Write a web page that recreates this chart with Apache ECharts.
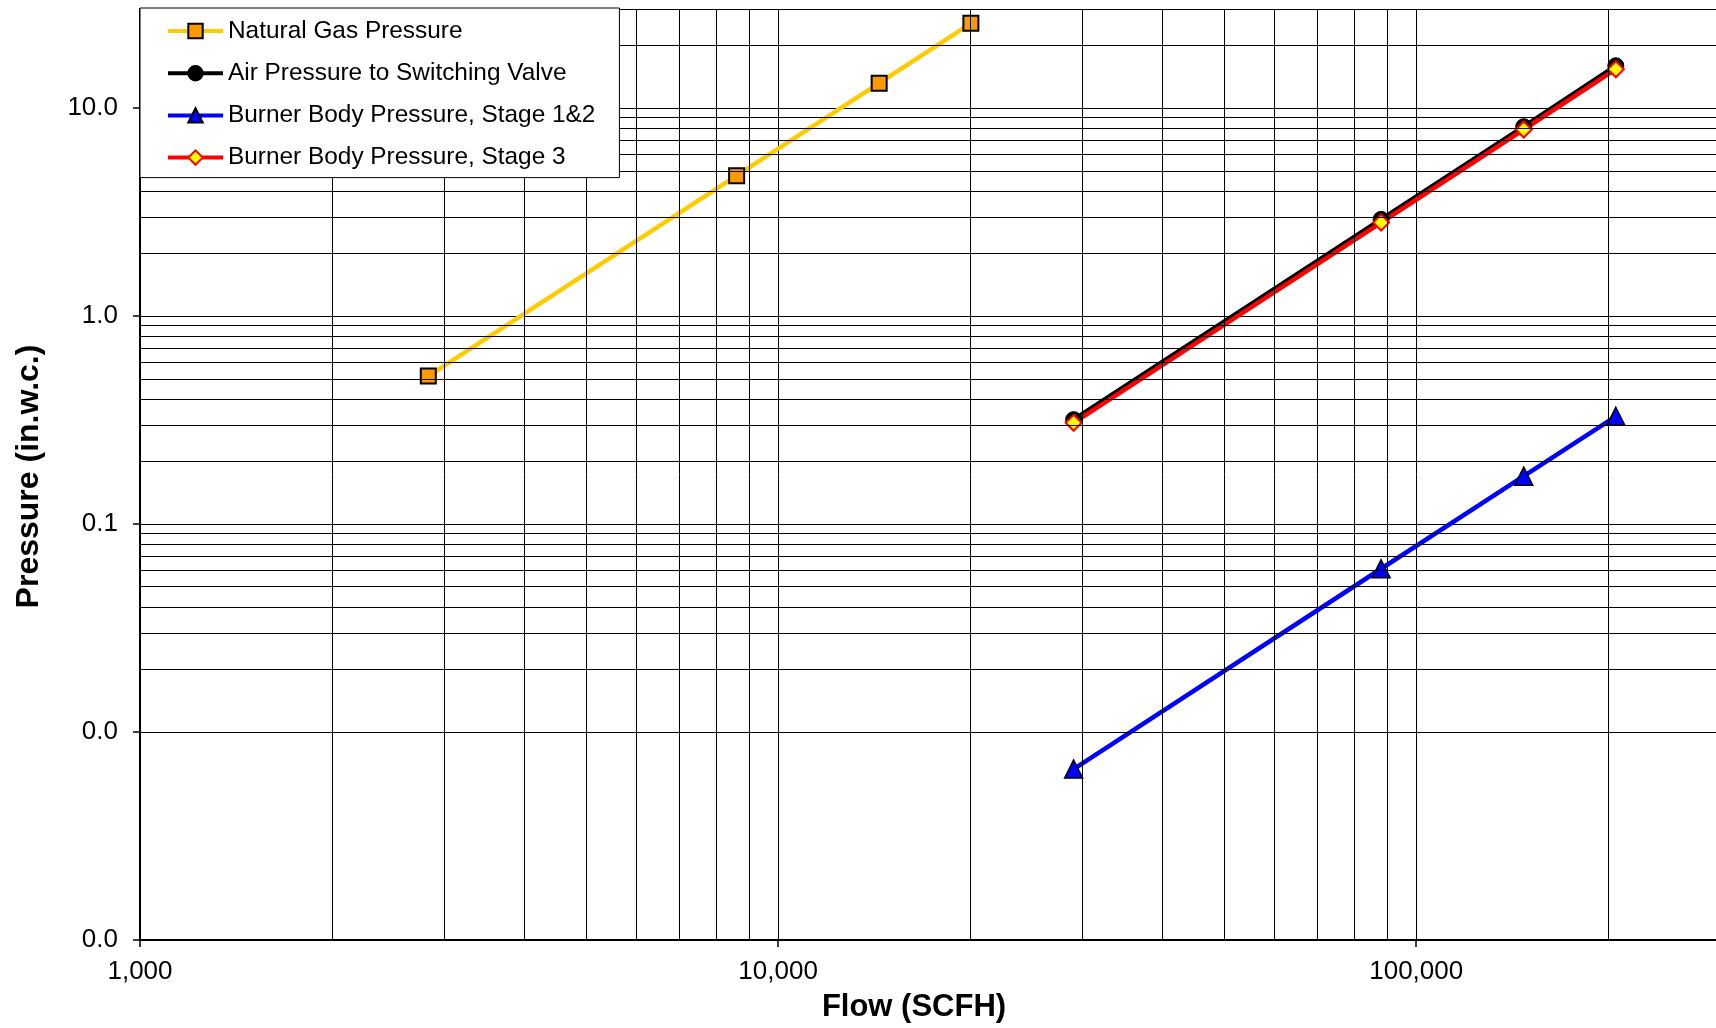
<!DOCTYPE html>
<html>
<head>
<meta charset="utf-8">
<script src="https://cdn.jsdelivr.net/npm/echarts@6/dist/echarts.min.js"></script>
<style>
html,body{margin:0;padding:0;background:#fff;}
#chart{width:1716px;height:1028px;}
</style>
</head>
<body>
<div id="chart"></div>
<script>
// ---- data ----
const seriesNames = ['Natural Gas Pressure','Air Pressure to Switching Valve','Burner Body Pressure, Stage 1&2','Burner Body Pressure, Stage 3'];
const gasFlow = [2830, 8610, 14400, 20050];
const gasPressure = [0.515, 4.74, 13.2, 25.6];
const airFlow = [29050, 88100, 147400, 205500];
const airPressure = [0.318, 2.92, 8.15, 16.0];
const stage12Flow = [29050, 88100, 147400, 205500];
const stage12Pressure = [0.00664, 0.0610, 0.170, 0.330];
const stage3Flow = [29050, 88100, 147400, 205500];
const stage3Pressure = [0.307, 2.82, 7.9, 15.4];
// minor grid-line values (log axes)
const xMinorGrid = [2000,3000,4000,5000,6000,7000,8000,9000,20000,30000,40000,50000,60000,70000,80000,90000,200000];
const yMinorGrid = [0.002,0.003,0.004,0.005,0.006,0.007,0.008,0.009,0.02,0.03,0.04,0.05,0.06,0.07,0.08,0.09,0.2,0.3,0.4,0.5,0.6,0.7,0.8,0.9,2,3,4,5,6,7,8,9,20,30];

const zip = (a,b) => a.map((v,i) => [v,b[i]]);
const FONT = '"Liberation Sans", Arial, sans-serif';

const chart = echarts.init(document.getElementById('chart'), null, {renderer:'canvas'});
const gridLines = [
  ...xMinorGrid.map(v => ({xAxis: v})),
  ...yMinorGrid.map(v => ({yAxis: v}))
];
chart.setOption({
  animation: false,
  backgroundColor: '#fff',
  textStyle: {fontFamily: FONT},
  grid: {left: 140, top: 9, right: 0, bottom: 84, containLabel: false},
  legend: {
    left: 140, top: 8, orient: 'vertical',
    backgroundColor: '#fff', borderColor: '#000', borderWidth: 1,
    padding: [11, 24, 8, 26], itemGap: 18.2, itemWidth: 55, itemHeight: 18, itemTextGap: 0,
    lineStyle: {width: 4},
    textStyle: {fontSize: 24.4, color: '#000', fontFamily: FONT},
    data: seriesNames, z: 10
  },
  xAxis: {
    type: 'log', logBase: 10, min: 1000, max: 295000,
    axisLine: {lineStyle: {color: '#000', width: 2}},
    axisTick: {show: true, length: 7, inside: false, lineStyle: {color: '#000', width: 1.5}},
    axisLabel: {fontSize: 26, color: '#000', margin: 19, fontFamily: FONT, showMaxLabel: false,
      formatter: v => Math.round(v).toLocaleString('en-US')},
    splitLine: {show: true, lineStyle: {color: '#000', width: 1}},
    name: 'Flow (SCFH)', nameLocation: 'middle', nameGap: 52,
    nameTextStyle: {fontSize: 31, fontWeight: 'bold', color: '#000', fontFamily: FONT, padding: [0, 28, 0, 0]}
  },
  yAxis: {
    type: 'log', logBase: 10, min: 0.001, max: 30,
    axisLine: {show: true, lineStyle: {color: '#000', width: 2}},
    axisTick: {show: true, length: 7, inside: false, lineStyle: {color: '#000', width: 1.5}},
    axisLabel: {fontSize: 26, color: '#000', margin: 22, fontFamily: FONT, showMaxLabel: false,
      formatter: v => Number(v).toFixed(1)},
    splitLine: {show: true, lineStyle: {color: '#000', width: 1}},
    name: 'Pressure (in.w.c.)', nameLocation: 'middle', nameGap: 95, nameRotate: 90,
    nameTextStyle: {fontSize: 32, fontWeight: 'bold', color: '#000', fontFamily: FONT, padding: [0, 4, 0, 0]}
  },
  series: [
    {
      name: 'grid', type: 'line', data: [], z: 1, silent: true,
      markLine: {silent: true, symbol: ['none','none'], label: {show: false},
        lineStyle: {color: '#000', width: 1, type: 'solid'}, emphasis: {disabled: true},
        animation: false, data: gridLines}
    },
    {
      name: seriesNames[0], type: 'line', z: 3, data: zip(gasFlow, gasPressure),
      symbol: 'rect', symbolSize: 15,
      lineStyle: {color: '#FFCC00', width: 4.5},
      itemStyle: {color: '#FF9900', borderColor: '#000', borderWidth: 2}
    },
    {
      name: seriesNames[1], type: 'line', z: 3, data: zip(airFlow, airPressure),
      symbol: 'circle', symbolSize: 16,
      lineStyle: {color: '#000', width: 4.5},
      itemStyle: {color: '#000', borderColor: '#000', borderWidth: 1}
    },
    {
      name: seriesNames[2], type: 'line', z: 3, data: zip(stage12Flow, stage12Pressure),
      symbol: 'triangle', symbolSize: 18,
      lineStyle: {color: '#0000FF', width: 4.5},
      itemStyle: {color: '#0000FF', borderColor: '#000', borderWidth: 1.5}
    },
    {
      name: seriesNames[3], type: 'line', z: 3, data: zip(stage3Flow, stage3Pressure),
      symbol: 'diamond', symbolSize: 16,
      lineStyle: {color: '#FF0000', width: 4.5},
      itemStyle: {color: '#FFFF00', borderColor: '#FF0000', borderWidth: 2}
    }
  ]
});
</script>
</body>
</html>
